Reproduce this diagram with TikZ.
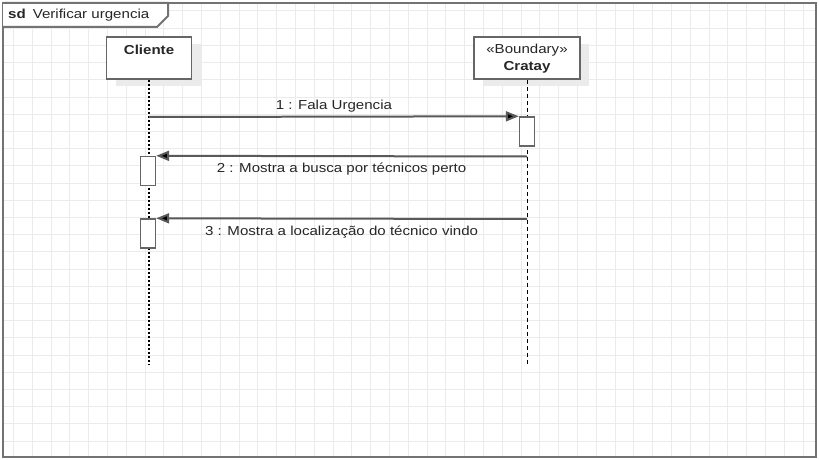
\documentclass[tikz,border=0pt]{standalone}
\usepackage{fontspec}
\setmainfont[FakeStretch=1.16]{Liberation Sans}
\usetikzlibrary{arrows.meta,positioning,shadows}

\tikzset{
  gridline/.style={black!8,line width=0.8pt},
  framebox/.style={draw=black!55,line width=2pt},
  lifebox/.style={draw=black!60,line width=1.6pt,fill=white,
    drop shadow={shadow xshift=9pt,shadow yshift=-7pt,fill=black!8,opacity=1}},
  boxlabel/.style={font=\fontsize{13}{16}\selectfont,text=black!85,align=center,inner sep=0pt},
  actbox/.style={draw=black!60,line width=1.4pt,fill=white,minimum width=15pt,minimum height=29pt,inner sep=0pt},
  msg/.style={black!65,line width=2pt,-{Triangle[length=13pt,width=10pt,fill=black]}},
  msglabel/.style={font=\fontsize{13}{16}\selectfont,text=black!85,inner sep=0pt}
}

\begin{document}
\begin{tikzpicture}[x=1pt,y=-1pt]
  \useasboundingbox (0,0) rectangle (819,460);
  \fill[white] (0,0) rectangle (819,460);
  % background grid
  \foreach \gx in {0,...,42}
    \draw[gridline] ({13.4+18.8*\gx},3) -- ++(0,454);
  \foreach \gy in {0,...,25}
    \draw[gridline] (3,{10.9+17.2*\gy}) -- ++(813,0);
  \draw[framebox] (3,3) rectangle (816,457);
  \draw[framebox,fill=white] (3,3) -- (168,3) -- (168,16) -- (157,27) -- (3,27);
  \node[msglabel,anchor=west] (title) at (8,15) {\textbf{sd}\hspace{7pt}Verificar urgencia};

  % lifelines
  \node[lifebox,minimum width=85pt,minimum height=42pt] (cliente) at (149,58) {};
  \node[boxlabel,below=9pt of cliente.north] (clientelabel) {\textbf{Cliente}};
  \node[lifebox,minimum width=106pt,minimum height=42pt] (cratay) at (527,58) {};
  \node[boxlabel,below=8pt of cratay.north] (cratadlabel) {«Boundary»\\[1pt]\textbf{Cratay}};
  \coordinate (clienteend) at (149,365);
  \coordinate (cratayend) at (527,365);
  \draw[black,line width=2pt,dash pattern=on 2pt off 2pt] (cliente) -- (clienteend);
  \draw[black,line width=1pt,dash pattern=on 4pt off 3pt] (cratay) -- (cratayend);

  % activations
  \node[actbox] (act1) at (527,131.5) {};
  \node[actbox] (act2) at (148,171) {};
  \node[actbox] (act3) at (148,233.5) {};

  % messages
  \coordinate (m1start) at (149,117);
  \coordinate (m2start) at (527,156.5);
  \coordinate (m3start) at (527,219);
  \draw[msg] (m1start) -- (act1.north west) node[msglabel,midway,above=3pt] {1 : Fala Urgencia};
  \draw[msg] (m2start) -- (act2.north east) node[msglabel,midway,below=6pt] {2 : Mostra a busca por técnicos perto};
  \draw[msg] (m3start) -- (act3.north east) node[msglabel,midway,below=6pt] {3 : Mostra a localização do técnico vindo};
\end{tikzpicture}
\end{document}
